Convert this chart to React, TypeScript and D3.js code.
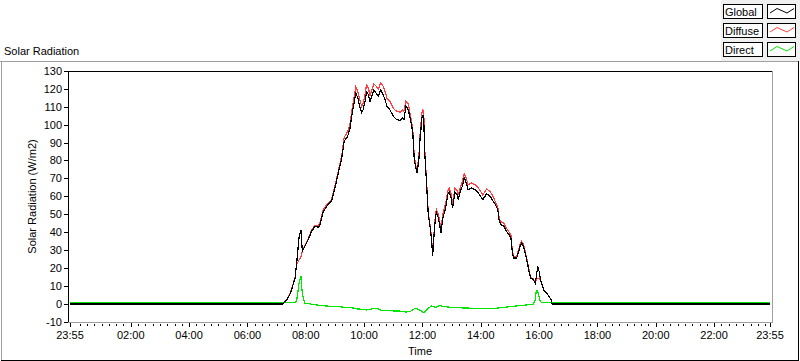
import React from "react";
import * as d3 from "d3";

// minutes since midnight (-5 = 23:55 of previous day)
const times = [
  -5, 432, 441, 449, 458, 461, 466, 470, 473, 478, 485, 492, 499, 506, 509, 516, 526, 533, 540, 547,
  554, 559, 566, 571, 576, 580, 583, 587, 592, 595, 598, 602, 605, 609, 612, 616, 620, 625, 629, 634,
  638, 643, 647, 653, 660, 667, 674, 679, 682, 686, 691, 696, 700, 703, 706, 709, 713, 715, 719, 721,
  723, 725, 729, 732, 736, 739, 741, 744, 747, 749, 753, 756, 758, 762, 765, 769, 772, 775, 779, 782,
  784, 787, 791, 794, 797, 802, 806, 809, 814, 821, 828, 835, 844, 852, 859, 865, 869, 875, 878, 882,
  888, 893, 898, 902, 905, 908, 914, 917, 921, 924, 928, 932, 936, 940, 943, 948, 952, 954, 957, 960,
  963, 967, 971, 976, 980, 985, 987, 1435,
];

const globalVals = [
  -0.2, -0.2, 2, 6, 14.3, 21.7, 36.6, 41.3, 29.2, 32, 35.7, 40.4, 43.2, 42.6, 44.1, 51.6, 55.3, 57.2, 64.6, 73,
  81.4, 90.7, 93.4, 98, 107.4, 113, 117.6, 114.9, 109.3, 106.9, 108.4, 113, 118.3, 116.8, 113, 115.9, 119.5, 117.6, 115.9, 119.3,
  117.6, 114, 110.3, 108.4, 104.7, 102.8, 102.4, 103.7, 102.8, 110.3, 108.4, 101.7, 96.1, 81.4, 76.2, 73, 81.4, 91.5, 103.7, 105.6,
  100, 83.2, 64.6, 49.7, 42.3, 34.8, 26.4, 38.5, 48.8, 50.6, 47.8, 43.2, 39.5, 47.8, 50.6, 55.3, 60.9, 62.4, 59, 53.4,
  57.2, 62.4, 60.9, 58.1, 61.8, 65.6, 70.2, 68.4, 63.7, 64.6, 63.7, 61.8, 58.1, 61.3, 60, 57.5, 55.8, 52.5, 46, 44.1,
  43.2, 40.4, 38.5, 36.7, 28.3, 25.5, 25.5, 28.3, 32, 33.9, 32, 27.3, 22.7, 17.1, 14.3, 13.4, 11.5, 14.3, 20.8, 18.1,
  13.4, 9.7, 6.9, 5.9, 4.1, 2.2, -0.2, -0.2,
];

const diffuseVals = [
  -0.2, -0.2, 2.3, 6.5, 14.8, 21.5, 24.3, 26, 29.2, 32.5, 36.3, 41, 43.8, 43.5, 45, 52.5, 56.3, 58.2, 65.7, 74.2,
  82.8, 93, 96, 100.5, 110, 116.5, 121.3, 118.5, 113, 110.3, 112, 117, 122.3, 120.5, 115.9, 119.5, 122.7, 121.5, 119.7, 123.3,
  122.2, 118.8, 114.8, 113, 109.2, 107.4, 107, 108.3, 107.5, 113.4, 111.5, 104, 98, 83, 77.5, 74.5, 83.5, 94, 106.5, 108.4,
  104, 85, 66, 51, 43.5, 36, 28.5, 40, 50.5, 52.5, 49.5, 45, 41, 50, 53, 57.5, 63, 64.5, 61.5, 55.5,
  59.5, 64.5, 63.3, 60.5, 64.2, 68, 72.6, 71, 66.5, 67.4, 66.5, 64.6, 60.8, 64, 62.8, 60, 57.5, 54, 47.5, 45.8,
  44.8, 42, 40, 38.2, 29.5, 26.5, 26.5, 29.5, 33.2, 34.8, 33, 28.3, 23.5, 17.8, 14.8, 13.8, 11.5, 13.5, 14, 14.3,
  12.8, 9.7, 6.9, 5.9, 4.1, 2.2, -0.2, -0.2,
];

const directVals = [
  0.6, 0.6, 0.6, 0.7, 0.8, 1.2, 11, 15.4, 5, 0.3, 0, -0.4, -0.6, -0.9, -1, -1.2, -1.4, -1.5, -1.6, -1.7,
  -1.9, -2, -2.1, -2.3, -2.4, -2.6, -2.9, -3, -3.1, -3.2, -3.3, -3.4, -3.6, -3.4, -3.2, -3, -2.8, -2.6, -3, -3.6,
  -3.7, -3.8, -3.9, -4, -4.1, -4.1, -4.2, -4.4, -4.6, -4.7, -4.6, -4.3, -3.5, -2.9, -2.6, -3, -3.4, -3.6, -4.2, -4.8,
  -5.1, -4.6, -3.2, -2.6, -1.8, -1.3, -1.5, -1.8, -2.1, -1.8, -1.4, -1, -1.2, -1.5, -1.7, -1.8, -1.9, -2, -2, -2.1,
  -2.1, -2.2, -2.2, -2.3, -2.3, -2.4, -2.4, -2.5, -2.5, -2.6, -2.6, -2.6, -2.6, -2.6, -2.6, -2.6, -2.6, -2.5, -2.4, -2.3,
  -2.1, -1.9, -1.8, -1.7, -1.6, -1.5, -1.3, -1.2, -1.1, -1.1, -1, -0.8, -0.7, -0.6, -0.5, -0.2, 2, 6.9, 7.4, 3.5,
  1, 0.6, 0.6, 0.6, 0.6, 0.6, 0.6, 0.6,
];

const seriesNames = ["Global", "Diffuse", "Direct"];
const seriesColors = ["#000000", "#ff4040", "#00e800"];

const xMajorTicks = [-5, 120, 240, 360, 480, 600, 720, 840, 960, 1080, 1200, 1320, 1435];
const xTickLabels = ["23:55", "02:00", "04:00", "06:00", "08:00", "10:00", "12:00", "14:00", "16:00", "18:00", "20:00", "22:00", "23:55"];
const yTicks = [-10, 0, 10, 20, 30, 40, 50, 60, 70, 80, 90, 100, 110, 120, 130];

const FONT = "'Liberation Sans', Arial, sans-serif";

export default function App() {
  const x = d3.scaleLinear().domain([-5, 1435]).range([70, 770]);
  const y = d3.scaleLinear().domain([-10, 130]).range([321.5, 71]);
  const plotL = 68, plotR = 772, plotT = 71, plotB = 322;

  const minorTicks = d3.range(0, 1435, 15).filter((m) => m % 120 !== 0);

  const makeLine = (vals: number[]) =>
    d3.line<number>()
      .x((_, i) => x(times[i]))
      .y((v) => y(v))(vals) || "";

  const seriesVals = [globalVals, diffuseVals, directVals];
  const drawOrder = [2, 1, 0];

  return (
    <div style={{ position: "absolute", left: 0, top: 0 }}>
      <svg width={800} height={361} style={{ display: "block", fontFamily: FONT }}>
        <rect x={0} y={0} width={800} height={361} fill="#ffffff" />
        {/* legend background */}
        <rect x={721} y={0} width={79} height={61} fill="#f0f0f0" />
        {/* outer panel */}
        <line x1={0} y1={61.5} x2={799} y2={61.5} stroke="#a0a0a0" />
        <line x1={1.5} y1={61} x2={1.5} y2={360} stroke="#a0a0a0" />
        <line x1={798.5} y1={61} x2={798.5} y2={361} stroke="#000" />
        <line x1={1} y1={360.5} x2={799} y2={360.5} stroke="#000" />

        <text x={4} y={55} fontSize={11}>Solar Radiation</text>

        {/* legend */}
        {seriesNames.map((name, i) => {
          const ty = 4 + i * 19;
          return (
            <g key={name}>
              <rect x={723.5} y={ty + 0.5} width={39} height={14} fill="#fff" stroke="#000" />
              <text x={725} y={ty + 12} fontSize={11}>{name}</text>
              <rect x={767.5} y={ty + 0.5} width={28} height={14} fill="#fff" stroke="#000" />
              <polyline
                points={`770,${ty + 9} 777,${ty + 4.5} 787,${ty + 9} 794,${ty + 4.5}`}
                fill="none"
                stroke={seriesColors[i]}
                strokeWidth={1}
              />
            </g>
          );
        })}

        {/* plot area */}
        <defs>
          <clipPath id="plotclip">
            <rect x={plotL + 1} y={plotT + 1} width={plotR - plotL - 1} height={plotB - plotT - 1} />
          </clipPath>
        </defs>
        <g clipPath="url(#plotclip)">
          {drawOrder.map((si) => (
            <path
              key={si}
              d={makeLine(seriesVals[si])}
              fill="none"
              stroke={seriesColors[si]}
              strokeWidth={1.2}
              shapeRendering="crispEdges"
            />
          ))}
        </g>
        <line x1={plotL} y1={plotT + 0.5} x2={plotR} y2={plotT + 0.5} stroke="#000" />
        <line x1={plotL + 0.5} y1={plotT} x2={plotL + 0.5} y2={plotB} stroke="#000" />
        <line x1={plotR + 0.5} y1={plotT} x2={plotR + 0.5} y2={plotB + 1} stroke="#a0a0a0" />
        <line x1={plotL} y1={plotB + 0.5} x2={plotR + 1} y2={plotB + 0.5} stroke="#a0a0a0" />

        {/* y axis */}
        {yTicks.map((t) => (
          <g key={t}>
            <line x1={64} x2={68} y1={Math.round(y(t)) + 0.5} y2={Math.round(y(t)) + 0.5} stroke="#000" />
            <text x={62} y={y(t) + 4} fontSize={11} textAnchor="end">{t}</text>
          </g>
        ))}
        <text
          transform={`translate(36,${(plotT + plotB) / 2}) rotate(-90)`}
          fontSize={11}
          textAnchor="middle"
        >
          Solar Radiation (W/m2)
        </text>

        {/* x axis */}
        {minorTicks.map((m) => (
          <line key={m} x1={Math.round(x(m)) + 0.5} x2={Math.round(x(m)) + 0.5} y1={324} y2={326} stroke="#000" />
        ))}
        {xMajorTicks.map((m, i) => (
          <g key={i}>
            <line x1={Math.round(x(m)) + 0.5} x2={Math.round(x(m)) + 0.5} y1={323} y2={327} stroke="#000" />
            <text x={x(m)} y={339} fontSize={11} textAnchor="middle">{xTickLabels[i]}</text>
          </g>
        ))}
        <text x={(plotL + plotR) / 2} y={355} fontSize={11} textAnchor="middle">Time</text>
      </svg>
    </div>
  );
}
